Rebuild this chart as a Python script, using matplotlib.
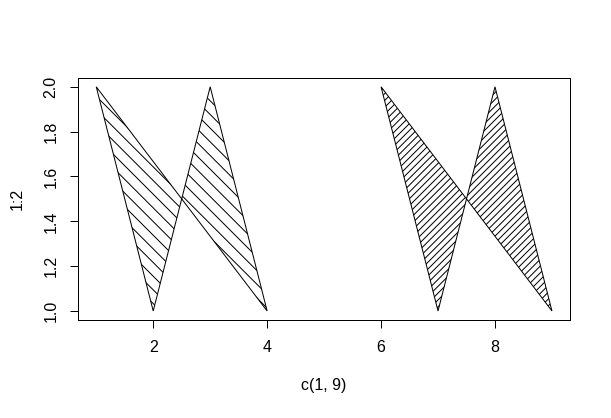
import matplotlib
matplotlib.use("Agg")
import matplotlib.pyplot as plt
from matplotlib.patches import Polygon
import numpy as np

# data
poly1_x = [1, 2, 3, 4]
poly1_y = [2, 1, 2, 1]
poly2_x = [6, 7, 8, 9]
poly2_y = [2, 1, 2, 1]
x_ticks = [2, 4, 6, 8]
y_ticks = [1.0, 1.2, 1.4, 1.6, 1.8, 2.0]
x_label = "c(1, 9)"
y_label = "1:2"

DPI = 82
W, H = 611, 418
px = 72.0 / DPI  # points per pixel

plt.rcParams['font.family'] = ['Liberation Sans', 'DejaVu Sans']
plt.rcParams['hatch.linewidth'] = 1.0 * px
plt.rcParams['hatch.color'] = 'black'

fig = plt.figure(figsize=((W + 0.2) / DPI, (H + 0.2) / DPI), dpi=DPI)
ax = fig.add_axes([78 / W, 1 - 320 / H, (570 - 78) / W, (320 - 78) / H])

xr = (min(poly1_x + poly2_x), max(poly1_x + poly2_x))
yr = (min(poly1_y + poly2_y), max(poly1_y + poly2_y))
dx = (xr[1] - xr[0]) * 0.04
dy = (yr[1] - yr[0]) * 0.04
ax.set_xlim(xr[0] - dx, xr[1] + dx)
ax.set_ylim(yr[0] - dy, yr[1] + dy)

p1 = Polygon(np.column_stack([poly1_x, poly1_y]), closed=True, facecolor='none',
             edgecolor='black', hatch='\\\\', linewidth=1.0 * px)
p2 = Polygon(np.column_stack([poly2_x, poly2_y]), closed=True, facecolor='none',
             edgecolor='black', hatch='////', linewidth=1.0 * px)
ax.add_patch(p1)
ax.add_patch(p2)

ax.set_xticks(x_ticks)
ax.set_xticklabels([str(t) for t in x_ticks])
ax.set_yticks(y_ticks)
ax.set_yticklabels([f"{t:.1f}" for t in y_ticks], rotation=90, va='center')

fs = 16 * px
ax.tick_params(axis='both', direction='out', length=8 * px, width=1.0 * px,
               labelsize=fs, colors='black')
ax.tick_params(axis='x', pad=12 * px)
ax.tick_params(axis='y', pad=11.5 * px)
for s in ax.spines.values():
    s.set_linewidth(1.0 * px)

ax.set_xlabel(x_label, fontsize=fs, labelpad=23 * px)
ax.set_ylabel(y_label, fontsize=fs, labelpad=18.5 * px)

fig.savefig("out.png", dpi=DPI)
